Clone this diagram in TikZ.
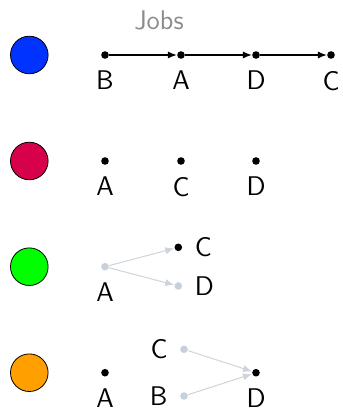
\documentclass[tikz,border=0pt]{standalone}
\usetikzlibrary{arrows.meta}
\definecolor{jobblue}{RGB}{0,51,255}
\definecolor{jobred}{RGB}{214,0,75}
\definecolor{jobgreen}{RGB}{0,255,0}
\definecolor{joborange}{RGB}{255,160,0}
\definecolor{faded}{RGB}{200,208,220}
\definecolor{fadedline}{RGB}{205,212,222}
\definecolor{titlegray}{RGB}{140,140,140}
\tikzset{
  txt/.style={font=\sffamily\fontsize{13.5}{16}\selectfont, inner sep=0pt},
  marker/.style={circle, draw=black, line width=0.4pt, minimum size=18.8pt, inner sep=0pt},
  job/.style={circle, fill=black, minimum size=3.8pt, inner sep=0pt},
  jobfaded/.style={job, fill=faded},
  lbl/.style={txt, label distance=5.8pt},
  side/.style={txt, label distance=6pt},
  seq/.style={-{Latex[length=4.5pt,width=3.6pt]}, line width=0.6pt},
  dep/.style={-{Latex[length=4.5pt,width=3.6pt]}, line width=0.5pt, draw=fadedline},
}
\begin{document}
\begin{tikzpicture}[x=0.5pt, y=-0.5pt]
  \useasboundingbox (0,0) rectangle (342,410);

  % header
  \node[txt, text=titlegray] (title) at (159,20) {Jobs};

  % row 1: a chain of jobs
  \node[marker, fill=jobblue] (m1) at (29.3,55) {};
  \node[job, label={[lbl]below:B}] (b1) at (105,55) {};
  \node[job, label={[lbl]below:A}] (a1) at (181,55) {};
  \node[job, label={[lbl]below:D}] (d1) at (256,55) {};
  \node[job, label={[lbl]below:C}] (c1) at (331,55) {};
  \draw[seq] (b1) -- (a1);
  \draw[seq] (a1) -- (d1);
  \draw[seq] (d1) -- (c1);

  % row 2: independent jobs
  \node[marker, fill=jobred] (m2) at (29.3,161) {};
  \node[job, label={[lbl]below:A}] (a2) at (105,161) {};
  \node[job, label={[lbl]below:C}] (c2) at (181,161) {};
  \node[job, label={[lbl]below:D}] (d2) at (256,161) {};

  % row 3: one job feeding two
  \node[marker, fill=jobgreen] (m3) at (29.3,266.7) {};
  \node[jobfaded, label={[lbl]below:A}] (a3) at (105,266.7) {};
  \node[job, label={[side]right:C}] (c3) at (178.3,247.3) {};
  \node[jobfaded, label={[side]right:D}] (d3) at (178.3,286) {};
  \draw[dep] (a3) -- (c3);
  \draw[dep] (a3) -- (d3);

  % row 4: two jobs feeding one
  \node[marker, fill=joborange] (m4) at (29.3,372.7) {};
  \node[job, label={[lbl]below:A}] (a4) at (105,372.7) {};
  \node[jobfaded, label={[side]left:C}] (c4) at (184,349.3) {};
  \node[jobfaded, label={[side]left:B}] (b4) at (184,396) {};
  \node[job, label={[lbl]below:D}] (d4) at (256,372.7) {};
  \draw[dep] (c4) -- (d4);
  \draw[dep] (b4) -- (d4);
\end{tikzpicture}
\end{document}
